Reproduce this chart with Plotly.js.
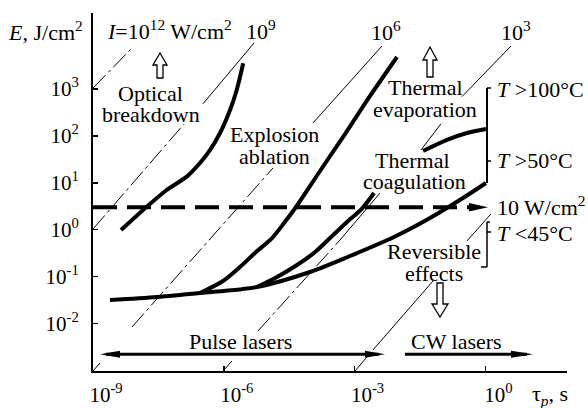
<!DOCTYPE html>
<html><head>
<meta charset="utf-8">
<script src="https://cdn.plot.ly/plotly-3.0.1.min.js"></script>
<style>body{margin:0;background:#fff}#chart{width:588px;height:408px}</style>
</head><body><div id="chart"></div>
<script>
// ---- data (tau in s, E in J/cm^2) ----
const tauA = [4.39e-9, 1.71e-8, 4.90e-8, 1.41e-7, 2.84e-7, 4.82e-7, 8.18e-7, 1.39e-6, 1.98e-6, 2.79e-6];
const eA   = [0.98, 3.08, 7.0, 13.5, 26.4, 49.9, 115, 356, 951, 3520];

const tauB = [2.84e-7, 9.59e-7, 2.35e-6, 5.48e-6, 1.28e-5, 2.41e-5, 4.53e-5, 1.61e-4, 6.02e-4, 2.26e-3, 9.38e-3];
const eB   = [0.0446, 0.0804, 0.160, 0.334, 0.662, 1.38, 3.04, 17.8, 109, 708, 4800];

const tauC = [5.77e-6, 1.66e-5, 4.78e-5, 1.24e-4, 3.03e-4, 6.70e-4, 1.48e-3, 2.79e-3];
const eC   = [0.0598, 0.0978, 0.176, 0.333, 0.727, 1.46, 2.82, 6.04];

const tauD = [2.45e-9, 2.94e-8, 2.84e-7, 5.77e-6, 9.48e-5, 7.84e-4, 8.01e-3, 0.0536, 0.306, 1.03];
const eD   = [0.0316, 0.0367, 0.0446, 0.0598, 0.125, 0.274, 0.697, 1.77, 4.73, 9.88];

const tauE = [0.0371, 0.1316, 0.378, 1.03];
const eE   = [47.5, 82.2, 115, 140];

// iso-intensity guide lines (visible pieces, null between pieces)
const isoDashTau = [1e-9, 8.26e-9, null, 1e-9, 1.22e-7, null, 7.83e-9, 1.34e-5, null, 6.08e-6, 4.62e-4, null, 1.02e-3, 2.64e-3];
const isoDashE   = [1047, 7840,    null, 1.03, 178,     null, 8.39e-3, 20.6,    null, 6.9e-3,  0.601,   null, 9.7e-4,  2.72e-3];
const isoSolidTau = [3.33e-7, 4.93e-6, null, 1e-9, 1.45e-9, null, 1.11e-4, 4.25e-3, null, 9.59e-7, 1.54e-6, null,
                     4.62e-4, 3.83e-3, null, 0.0333, 0.0959, null, 0.290, 3.86, null, 2.64e-3, 0.0628, null, 0.378, 1.34];
const isoSolidE   = [482, 9550, null, 9.7e-4, 1.44e-3, null, 188, 8240, null, 9.7e-4, 1.58e-3, null,
                     0.601, 6.04, null, 50.0, 181, null, 685, 8240, null, 2.72e-3, 0.0804, null, 0.575, 2.16];

const thresholdTau = [1e-9, 0.444];
const thresholdE = [3.0, 3.0];
const pulseTau = [1.99e-9, 3.63e-3];
const cwTau = [0.0143, 8.99];
const laserBandE = [2.2e-3, 2.2e-3];

const xTickVals = [1e-9, 1e-6, 1e-3, 1];
const xTickText = ['10<sup>-9</sup>', '10<sup>-6</sup>', '10<sup>-3</sup>', '10<sup>0</sup>'];
const yTickVals = [1e-2, 1e-1, 1, 10, 100, 1000];
const yTickText = ['10<sup>-2</sup>', '10<sup>-1</sup>', '10<sup>0</sup>', '10<sup>1</sup>', '10<sup>2</sup>', '10<sup>3</sup>'];

// ---- drawing ----
const FONT = '"Liberation Serif", "Times New Roman", Tinos, "DejaVu Serif", serif';
const L = 93, R = 567, T = 13, B = 371;
const X = px => (px - L) / (R - L);
const Y = py => (B - py) / (B - T);

function thick(x, y) {
  return {x: x, y: y, mode: 'lines', hoverinfo: 'skip',
          line: {color: 'black', width: 4, shape: 'spline', smoothing: 0.8}};
}
const traces = [
  {x: isoDashTau, y: isoDashE, mode: 'lines', hoverinfo: 'skip', connectgaps: false,
   line: {color: 'black', width: 1, dash: '18px,4px,3px,4px'}},
  {x: isoSolidTau, y: isoSolidE, mode: 'lines', hoverinfo: 'skip', connectgaps: false,
   line: {color: 'black', width: 1}},
  thick(tauA, eA), thick(tauB, eB), thick(tauC, eC), thick(tauD, eD), thick(tauE, eE),
  {x: thresholdTau, y: thresholdE, mode: 'lines', hoverinfo: 'skip',
   line: {color: 'black', width: 4, dash: '24px,10px'}},
  {x: pulseTau, y: laserBandE, mode: 'lines', hoverinfo: 'skip', line: {color: 'black', width: 3}},
  {x: cwTau, y: laserBandE, mode: 'lines', hoverinfo: 'skip', line: {color: 'black', width: 3}}
];

function poly(pts, fill, lw) {
  return {type: 'path', xref: 'paper', yref: 'paper', layer: 'above',
          path: 'M' + pts.map(p => X(p[0]).toFixed(5) + ',' + Y(p[1]).toFixed(5)).join('L') + 'Z',
          fillcolor: fill, line: {color: 'black', width: lw}};
}
function seg(x0, y0, x1, y1, w) {
  return {type: 'line', xref: 'paper', yref: 'paper', layer: 'above',
          x0: X(x0), y0: Y(y0), x1: X(x1), y1: Y(y1), line: {color: 'black', width: w}};
}
function hollow(cx, tip, base, end, hw, sw) {
  return poly([[cx, tip], [cx + hw, base], [cx + sw, base], [cx + sw, end], [cx - sw, end], [cx - sw, base], [cx - hw, base]], 'white', 1.3);
}
const shapes = [
  hollow(160, 53, 65, 78, 7, 3),
  hollow(430, 47, 60, 77, 7, 3),
  hollow(440, 317, 304, 283, 8, 3),
  poly([[488, 207.3], [469, 203], [469, 211.6]], 'black', 0),
  poly([[100, 354.3], [120, 350.8], [120, 357.8]], 'black', 0),
  poly([[385, 354.3], [365, 350.8], [365, 357.8]], 'black', 0),
  poly([[533, 354.3], [511, 350.8], [511, 357.8]], 'black', 0),
  seg(487, 88, 487, 183, 2), seg(487, 88, 491, 88, 1.5), seg(487, 161, 491, 161, 1.5),
  seg(487, 222, 487, 267, 1.5), seg(487, 222, 490, 222, 1.5), seg(487, 232, 491, 232, 1.5), seg(481, 267, 487, 267, 1.5)
];

function txt(px, py, s, anchor) {
  return {xref: 'paper', yref: 'paper', x: X(px), y: Y(py), text: s, showarrow: false,
          xanchor: anchor || 'center', yanchor: 'middle', borderpad: 0,
          font: {family: FONT, size: 22, color: 'black'}};
}
const annotations = [
  txt(45, 31, '<i>E</i>, J/cm<sup>2</sup>'),
  txt(169, 30, '<i>I</i>=10<sup>12</sup> W/cm<sup>2</sup>'),
  txt(260.5, 30, '10<sup>9</sup>'),
  txt(386, 31, '10<sup>6</sup>'),
  txt(515.5, 31, '10<sup>3</sup>'),
  txt(150.5, 93, 'Optical'),
  txt(151, 114.5, 'breakdown'),
  txt(274, 134, 'Explosion'),
  txt(274, 156, 'ablation'),
  txt(425, 88, 'Thermal'),
  txt(425, 110, 'evaporation'),
  txt(412.5, 160, 'Thermal'),
  txt(414, 181.5, 'coagulation'),
  txt(434, 251, 'Reversible'),
  txt(434, 273, 'effects'),
  txt(240.5, 341, 'Pulse lasers'),
  txt(456.5, 341, 'CW lasers'),
  txt(496, 89.5, '<i>T</i> &gt;100°C', 'left'),
  txt(496, 160.5, '<i>T</i> &gt;50°C', 'left'),
  txt(496, 206, '10 W/cm<sup>2</sup>', 'left'),
  txt(496, 233.5, '<i>T</i> &lt;45°C', 'left'),
  txt(549.5, 395, 'τ<sub><i>p</i></sub>, s')
];

const layout = {
  width: 588, height: 408,
  margin: {l: L, r: 588 - R, t: T, b: 408 - B, pad: 0},
  paper_bgcolor: 'white', plot_bgcolor: 'white', showlegend: false,
  font: {family: FONT, size: 22, color: 'black'},
  xaxis: {type: 'log', range: [-9, -9 + (R - L) / 43.6], showgrid: false, zeroline: false,
          showline: true, linecolor: 'black', linewidth: 2, ticks: 'inside', ticklen: 5, tickwidth: 1.5,
          tickcolor: 'black', tickvals: xTickVals, ticktext: xTickText,
          tickfont: {family: FONT, size: 21, color: 'black'}, ticklabelshift: 13, ticklabelstandoff: 4},
  yaxis: {type: 'log', range: [(229.65 - B) / 46.9, (229.65 - T) / 46.9], showgrid: false, zeroline: false,
          showline: true, linecolor: 'black', linewidth: 2, ticks: 'inside', ticklen: 5, tickwidth: 1.5,
          tickcolor: 'black', tickvals: yTickVals, ticktext: yTickText,
          tickfont: {family: FONT, size: 21, color: 'black'}, ticklabelstandoff: 8},
  shapes: shapes, annotations: annotations
};
Plotly.newPlot('chart', traces, layout, {displayModeBar: false, staticPlot: true});
</script></body></html>
